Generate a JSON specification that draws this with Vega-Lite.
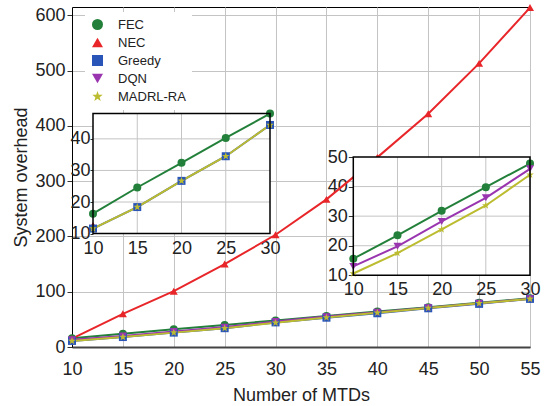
{
  "$schema": "https://vega.github.io/schema/vega-lite/v6.json",
  "width": 458,
  "height": 340,
  "autosize": {"type": "none"},
  "padding": {"left": 72, "top": 7, "right": 15, "bottom": 59},
  "background": "white",
  "config": {
    "font": "Liberation Sans",
    "view": {"stroke": "black", "strokeWidth": 1},
    "axis": {"labelFont": "Liberation Sans", "labelFontSize": 18, "labelColor": "#222", "titleFont": "Liberation Sans", "titleFontSize": 18, "titleFontWeight": "normal", "titleColor": "#222"}
  },
  "datasets": {
    "main": [
      {"n": 10, "v": 16, "s": "FEC"}, {"n": 15, "v": 24, "s": "FEC"}, {"n": 20, "v": 32, "s": "FEC"}, {"n": 25, "v": 40, "s": "FEC"}, {"n": 30, "v": 48, "s": "FEC"}, {"n": 35, "v": 56, "s": "FEC"}, {"n": 40, "v": 64, "s": "FEC"}, {"n": 45, "v": 72, "s": "FEC"}, {"n": 50, "v": 80, "s": "FEC"}, {"n": 55, "v": 88, "s": "FEC"},
      {"n": 10, "v": 15, "s": "NEC"}, {"n": 15, "v": 60, "s": "NEC"}, {"n": 20, "v": 101, "s": "NEC"}, {"n": 25, "v": 150, "s": "NEC"}, {"n": 30, "v": 203, "s": "NEC"}, {"n": 35, "v": 267, "s": "NEC"}, {"n": 40, "v": 343, "s": "NEC"}, {"n": 45, "v": 422, "s": "NEC"}, {"n": 50, "v": 513, "s": "NEC"}, {"n": 55, "v": 614, "s": "NEC"},
      {"n": 10, "v": 11, "s": "Greedy"}, {"n": 15, "v": 18, "s": "Greedy"}, {"n": 20, "v": 26, "s": "Greedy"}, {"n": 25, "v": 34, "s": "Greedy"}, {"n": 30, "v": 44.5, "s": "Greedy"}, {"n": 35, "v": 53, "s": "Greedy"}, {"n": 40, "v": 61, "s": "Greedy"}, {"n": 45, "v": 70, "s": "Greedy"}, {"n": 50, "v": 78, "s": "Greedy"}, {"n": 55, "v": 87, "s": "Greedy"},
      {"n": 10, "v": 13, "s": "DQN"}, {"n": 15, "v": 20, "s": "DQN"}, {"n": 20, "v": 28, "s": "DQN"}, {"n": 25, "v": 36, "s": "DQN"}, {"n": 30, "v": 46, "s": "DQN"}, {"n": 35, "v": 55, "s": "DQN"}, {"n": 40, "v": 63, "s": "DQN"}, {"n": 45, "v": 71, "s": "DQN"}, {"n": 50, "v": 79, "s": "DQN"}, {"n": 55, "v": 87.5, "s": "DQN"},
      {"n": 10, "v": 11, "s": "MADRL-RA"}, {"n": 15, "v": 18, "s": "MADRL-RA"}, {"n": 20, "v": 26, "s": "MADRL-RA"}, {"n": 25, "v": 34, "s": "MADRL-RA"}, {"n": 30, "v": 44, "s": "MADRL-RA"}, {"n": 35, "v": 53.5, "s": "MADRL-RA"}, {"n": 40, "v": 62, "s": "MADRL-RA"}, {"n": 45, "v": 70.5, "s": "MADRL-RA"}, {"n": 50, "v": 79, "s": "MADRL-RA"}, {"n": 55, "v": 87, "s": "MADRL-RA"}
    ],
    "inset1": [
      {"n": 10, "v": 16.3, "s": "FEC"}, {"n": 15, "v": 24.6, "s": "FEC"}, {"n": 20, "v": 32.4, "s": "FEC"}, {"n": 25, "v": 40.3, "s": "FEC"}, {"n": 30, "v": 48, "s": "FEC"},
      {"n": 10, "v": 12.6, "s": "NEC"},
      {"n": 10, "v": 11.6, "s": "Greedy"}, {"n": 15, "v": 18.4, "s": "Greedy"}, {"n": 20, "v": 26.7, "s": "Greedy"}, {"n": 25, "v": 34.5, "s": "Greedy"}, {"n": 30, "v": 44.4, "s": "Greedy"},
      {"n": 10, "v": 11.6, "s": "MADRL-RA"}, {"n": 15, "v": 18.4, "s": "MADRL-RA"}, {"n": 20, "v": 26.7, "s": "MADRL-RA"}, {"n": 25, "v": 34.5, "s": "MADRL-RA"}, {"n": 30, "v": 44.4, "s": "MADRL-RA"}
    ],
    "inset2": [
      {"n": 10, "v": 15.6, "s": "FEC"}, {"n": 15, "v": 23.5, "s": "FEC"}, {"n": 20, "v": 31.8, "s": "FEC"}, {"n": 25, "v": 39.8, "s": "FEC"}, {"n": 30, "v": 47.8, "s": "FEC"},
      {"n": 10, "v": 13, "s": "DQN"}, {"n": 15, "v": 19.8, "s": "DQN"}, {"n": 20, "v": 28.2, "s": "DQN"}, {"n": 25, "v": 36.2, "s": "DQN"}, {"n": 30, "v": 46, "s": "DQN"},
      {"n": 10, "v": 10.6, "s": "MADRL-RA"}, {"n": 15, "v": 17.5, "s": "MADRL-RA"}, {"n": 20, "v": 25.5, "s": "MADRL-RA"}, {"n": 25, "v": 33.6, "s": "MADRL-RA"}, {"n": 30, "v": 44, "s": "MADRL-RA"}
    ],
    "gx": [{"g": 15}, {"g": 20}, {"g": 25}],
    "gy": [{"g": 20}, {"g": 30}, {"g": 40}]
  },
  "layer": [
    {
      "data": {"name": "main"},
      "layer": [
        {
          "mark": {"type": "line", "strokeWidth": 2},
          "encoding": {
            "x": {"field": "n", "type": "quantitative", "scale": {"domain": [10, 55], "nice": false, "zero": false},
              "axis": {"orient": "bottom", "values": [10, 15, 20, 25, 30, 35, 40, 45, 50, 55], "grid": true, "gridColor": "#c4c4c4", "domainColor": "#444", "domainWidth": 2, "ticks": false, "labelPadding": 13, "labelFlush": false, "labelOverlap": false, "title": "Number of MTDs", "titlePadding": 8}},
            "y": {"field": "v", "type": "quantitative", "scale": {"domain": [0, 615], "nice": false},
              "axis": {"orient": "left", "values": [0, 100, 200, 300, 400, 500, 600], "grid": true, "gridColor": "#c4c4c4", "domainColor": "black", "domainWidth": 1, "tickColor": "#333", "tickSize": 5, "labelPadding": 2, "title": "System overhead", "titlePadding": 4}},
            "color": {"field": "s", "type": "nominal",
              "scale": {"domain": ["FEC", "NEC", "Greedy", "DQN", "MADRL-RA"], "range": ["#23803a", "#e8262a", "#2a55b8", "#9a35b0", "#bcbc30"]},
              "legend": {
                "orient": "none", "legendX": 13, "legendY": 5, "title": null, "padding": 6, "fillColor": "white", "strokeColor": null,
                "labelFont": "Liberation Sans", "labelFontSize": 13, "labelColor": "#222", "labelOffset": 14, "rowPadding": 4, "symbolSize": 121,
                "encode": {"symbols": {"update": {
                  "shape": {"signal": "datum.value === 'FEC' ? 'M-2.45,-0.18H2.45V0.18H-2.45Z M-0.73,0A0.73,0.73 0 1,1 0.73,0A0.73,0.73 0 1,1 -0.73,0Z' : datum.value === 'NEC' ? 'M-2.45,-0.18H2.45V0.18H-2.45Z M0,-0.85L0.8,0.55H-0.8Z' : datum.value === 'Greedy' ? 'M-2.45,-0.18H2.45V0.18H-2.45Z M-0.65,-0.65H0.65V0.65H-0.65Z' : datum.value === 'DQN' ? 'M-2.45,-0.18H2.45V0.18H-2.45Z M-0.8,-0.55H0.8L0,0.85Z' : 'M-2.45,-0.18H2.45V0.18H-2.45Z M0,-0.8L0.188,-0.259L0.761,-0.247L0.304,0.099L0.47,0.647L0,0.32L-0.47,0.647L-0.304,0.099L-0.761,-0.247L-0.188,-0.259Z'"},
                  "fill": {"scale": "color", "field": "value"},
                  "stroke": {"value": "transparent"},
                  "strokeWidth": {"value": 0},
                  "size": {"value": 121},
                  "opacity": {"value": 1}
                }}}
              }}
          }
        },
        {
          "mark": {"type": "point", "filled": true, "opacity": 1, "size": 64},
          "encoding": {
            "x": {"field": "n", "type": "quantitative"},
            "y": {"field": "v", "type": "quantitative"},
            "color": {"field": "s", "type": "nominal", "legend": null},
            "shape": {"field": "s", "type": "nominal", "legend": null,
              "scale": {"domain": ["FEC", "NEC", "Greedy", "DQN", "MADRL-RA"], "range": ["circle", "triangle-up", "square", "triangle-down", "M0,-1L0.235,-0.324L0.951,-0.309L0.38,0.124L0.588,0.809L0,0.4L-0.588,0.809L-0.38,0.124L-0.951,-0.309L-0.235,-0.324Z"]}}
          }
        }
      ]
    },
    {
      "layer": [
        {
          "data": {"values": [{}]},
          "mark": {"type": "rect", "fill": "white"},
          "encoding": {
            "x": {"datum": 10, "type": "quantitative", "scale": {"domain": [10, 30], "range": [21, 198], "nice": false, "zero": false},
              "axis": {"orient": "bottom", "offset": -113.4, "values": [10, 15, 20, 25, 30], "grid": false, "domain": false, "ticks": false, "labelPadding": 6, "labelFlush": false, "labelOverlap": false, "title": null}},
            "x2": {"datum": 30},
            "y": {"datum": 10, "type": "quantitative", "scale": {"domain": [10, 48], "range": [226.6, 106.6], "nice": false, "zero": false},
              "axis": {"orient": "left", "offset": -21, "values": [10, 20, 30, 40], "grid": false, "domain": false, "tickSize": 3, "tickColor": "#333", "labelPadding": 0, "labelOverlap": false, "title": null}},
            "y2": {"datum": 48}
          }
        },
        {
          "data": {"name": "gx"},
          "mark": {"type": "rule", "color": "#c4c4c4", "strokeWidth": 1},
          "encoding": {"x": {"field": "g", "type": "quantitative"}, "y": {"datum": 10}, "y2": {"datum": 48}}
        },
        {
          "data": {"name": "gy"},
          "mark": {"type": "rule", "color": "#c4c4c4", "strokeWidth": 1},
          "encoding": {"y": {"field": "g", "type": "quantitative"}, "x": {"datum": 10}, "x2": {"datum": 30}}
        },
        {
          "data": {"name": "inset1"},
          "mark": {"type": "line", "strokeWidth": 2},
          "encoding": {
            "x": {"field": "n", "type": "quantitative"},
            "y": {"field": "v", "type": "quantitative"},
            "color": {"field": "s", "type": "nominal", "legend": null}
          }
        },
        {
          "data": {"name": "inset1"},
          "mark": {"type": "point", "filled": true, "opacity": 1, "size": 64},
          "encoding": {
            "x": {"field": "n", "type": "quantitative"},
            "y": {"field": "v", "type": "quantitative"},
            "color": {"field": "s", "type": "nominal", "legend": null},
            "shape": {"field": "s", "type": "nominal", "legend": null}
          }
        },
        {
          "data": {"values": [{}]},
          "mark": {"type": "rect", "fill": null, "stroke": "black", "strokeWidth": 1.5},
          "encoding": {"x": {"datum": 10}, "x2": {"datum": 30}, "y": {"datum": 10}, "y2": {"datum": 48}}
        }
      ]
    },
    {
      "layer": [
        {
          "data": {"values": [{}]},
          "mark": {"type": "rect", "fill": "white"},
          "encoding": {
            "x": {"datum": 10, "type": "quantitative", "scale": {"domain": [10, 30], "range": [281.3, 458], "nice": false, "zero": false},
              "axis": {"orient": "bottom", "offset": -71.7, "values": [10, 15, 20, 25, 30], "grid": false, "domain": false, "ticks": false, "labelPadding": 5, "labelFlush": false, "labelOverlap": false, "title": null}},
            "x2": {"datum": 30},
            "y": {"datum": 10, "type": "quantitative", "scale": {"domain": [10, 50], "range": [268.3, 150], "nice": false, "zero": false},
              "axis": {"orient": "left", "offset": -281.3, "values": [10, 20, 30, 40, 50], "grid": false, "domain": false, "tickSize": 5, "tickColor": "#333", "labelPadding": 1, "labelOverlap": false, "title": null}},
            "y2": {"datum": 50}
          }
        },
        {
          "data": {"name": "gx"},
          "mark": {"type": "rule", "color": "#c4c4c4", "strokeWidth": 1},
          "encoding": {"x": {"field": "g", "type": "quantitative"}, "y": {"datum": 10}, "y2": {"datum": 50}}
        },
        {
          "data": {"name": "gy"},
          "mark": {"type": "rule", "color": "#c4c4c4", "strokeWidth": 1},
          "encoding": {"y": {"field": "g", "type": "quantitative"}, "x": {"datum": 10}, "x2": {"datum": 30}}
        },
        {
          "data": {"name": "inset2"},
          "mark": {"type": "line", "strokeWidth": 2},
          "encoding": {
            "x": {"field": "n", "type": "quantitative"},
            "y": {"field": "v", "type": "quantitative"},
            "color": {"field": "s", "type": "nominal", "legend": null}
          }
        },
        {
          "data": {"name": "inset2"},
          "mark": {"type": "point", "filled": true, "opacity": 1, "size": 64},
          "encoding": {
            "x": {"field": "n", "type": "quantitative"},
            "y": {"field": "v", "type": "quantitative"},
            "color": {"field": "s", "type": "nominal", "legend": null},
            "shape": {"field": "s", "type": "nominal", "legend": null}
          }
        },
        {
          "data": {"values": [{}]},
          "mark": {"type": "rect", "fill": null, "stroke": "black", "strokeWidth": 1.5},
          "encoding": {"x": {"datum": 10}, "x2": {"datum": 30}, "y": {"datum": 10}, "y2": {"datum": 50}}
        }
      ]
    }
  ],
  "resolve": {"scale": {"x": "independent", "y": "independent"}, "axis": {"x": "independent", "y": "independent"}}
}
